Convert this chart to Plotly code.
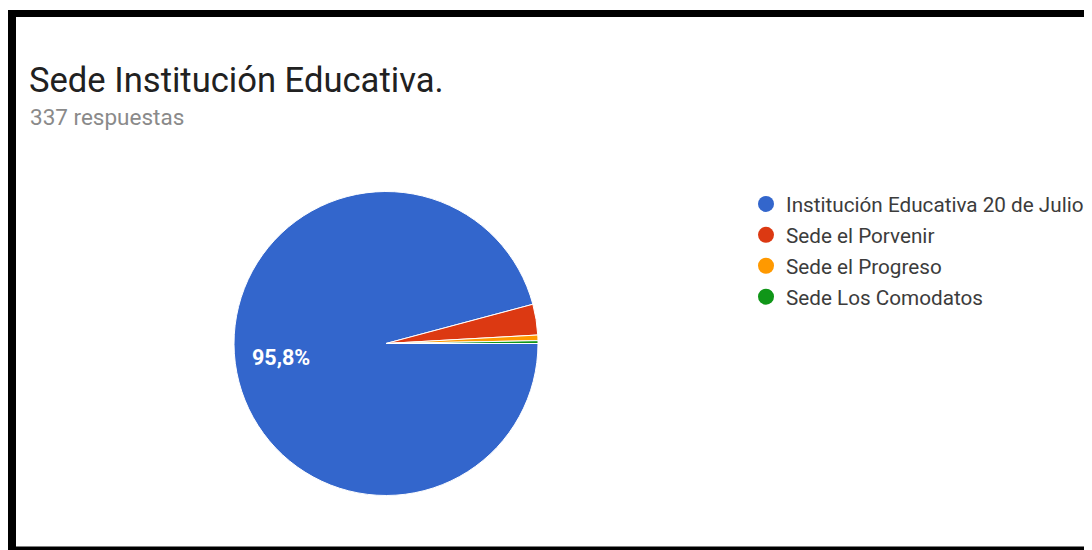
import math
import plotly.graph_objects as go

# screen size, body margin offset of the page
SW, SH = 1092, 550
OFF = 8
W, H = SW - OFF, SH - OFF

title_text = "Sede Institución Educativa."
subtitle_text = "337 respuestas"
labels = ["Institución Educativa 20 de Julio", "Sede el Porvenir", "Sede el Progreso", "Sede Los Comodatos"]
values = [323, 11, 2, 1]
colors = ["#3366CC", "#DC3912", "#FF9900", "#109618"]

def px_x(x):
    return (x - OFF) / W

def px_y(y):
    return 1 - (y - OFF) / H

fig = go.Figure()

cx, cy, r = 386, 343.5, 152
rotation = 90
fig.add_trace(go.Pie(
    labels=labels,
    values=values,
    sort=False,
    direction="clockwise",
    rotation=rotation,
    marker=dict(colors=colors, line=dict(color="white", width=1)),
    textinfo="none",
    domain=dict(x=[px_x(cx - r), px_x(cx + r)], y=[px_y(cy + r), px_y(cy - r)]),
    showlegend=False,
    hoverinfo="label+percent",
))

# percentage label of the largest slice, placed along its mid-angle
total = sum(values)
frac = values[0] / total
mid = math.radians(rotation + 360 * frac / 2)
rr = 0.70 * r
lx = cx + rr * math.sin(mid)
ly = cy - rr * math.cos(mid)
pct_text = f"{frac * 100:.1f}%".replace(".", ",")

for i, (lab, col) in enumerate(zip(labels, colors)):
    fig.add_trace(go.Scatter(
        x=[None], y=[None], mode="markers", name=lab,
        legendgroup=f"g{i}",
        marker=dict(color=col, size=18, symbol="circle"),
        showlegend=True,
    ))

shapes = [
    dict(type="rect", xref="paper", yref="paper", x0=px_x(8), x1=px_x(SW), y0=px_y(17), y1=px_y(10),
         fillcolor="black", line=dict(width=0)),
    dict(type="rect", xref="paper", yref="paper", x0=px_x(8), x1=px_x(16), y0=px_y(SH), y1=px_y(10),
         fillcolor="black", line=dict(width=0)),
    dict(type="rect", xref="paper", yref="paper", x0=px_x(8), x1=px_x(SW), y0=px_y(SH), y1=px_y(546.5),
         fillcolor="black", line=dict(width=0)),
]

fig.update_layout(
    width=W, height=H,
    margin=dict(l=0, r=0, t=0, b=0),
    paper_bgcolor="white", plot_bgcolor="white",
    separators=",.",
    font=dict(family="Roboto", color="#333333"),
    title=dict(text=title_text, x=px_x(29), xanchor="left", xref="paper",
               y=px_y(80), yanchor="middle", yref="paper",
               font=dict(family="Roboto", size=34.6, color="#212121")),
    annotations=[
        dict(text=subtitle_text, x=px_x(27.5), y=px_y(117), xref="paper", yref="paper",
             xanchor="left", yanchor="middle", showarrow=False,
             font=dict(family="Roboto", size=22.5, color="#8a8a8a")),
        dict(text=pct_text, x=px_x(lx), y=px_y(ly), xref="paper", yref="paper",
             xanchor="center", yanchor="middle", showarrow=False,
             font=dict(family="Roboto", size=21.5, color="white", weight="bold")),
    ],
    legend=dict(x=px_x(746), y=px_y(184), xanchor="left", yanchor="top",
                font=dict(family="Roboto", size=20.7, color="#3c3c3c"),
                tracegroupgap=1, bgcolor="rgba(0,0,0,0)", itemclick=False),
    xaxis=dict(visible=False), yaxis=dict(visible=False),
    shapes=shapes,
)

fig.write_html("out.html")
